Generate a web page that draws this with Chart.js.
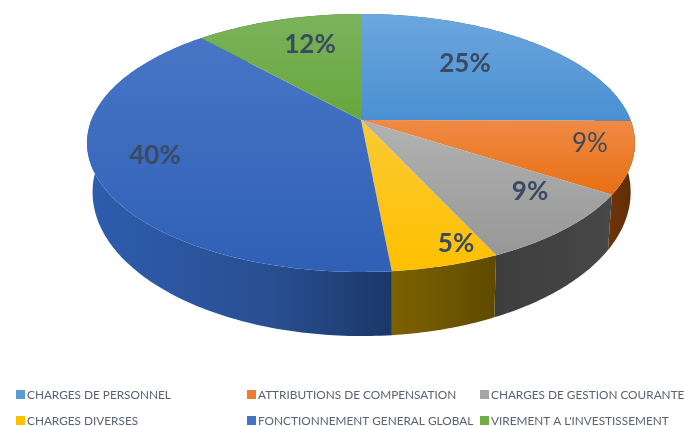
<!DOCTYPE html>
<html>
<head>
<meta charset="utf-8">
<title>Pie</title>
<script src="https://cdn.jsdelivr.net/npm/chart.js@4/dist/chart.umd.js"></script>
<style>
  html, body { margin: 0; padding: 0; background: #fff; }
  canvas { display: block; }
</style>
</head>
<body>
<canvas id="myChart" width="684" height="426"></canvas>
<script>
const categories = ['CHARGES DE PERSONNEL', 'ATTRIBUTIONS DE COMPENSATION', 'CHARGES DE GESTION COURANTE',
  'CHARGES DIVERSES', 'FONCTIONNEMENT GENERAL GLOBAL', "VIREMENT A L'INVESTISSEMENT"];
const shares = [25.1, 9.0, 9.0, 5.4, 39.8, 11.7];

const colors = ['#5B9BD5', '#ED7D31', '#A5A5A5', '#FFC000', '#4472C4', '#70AD47'];
const topLight = ['#6CA6DE', '#F08A45', '#B2B2B2', '#FACA35', '#4875C6', '#7BB35C'];
const topDark = ['#4A90D2', '#E86F12', '#979797', '#FFC000', '#2F60B6', '#68A63C'];
const wallLeft = ['#2F5F8F', '#6E3408', '#3E3E3E', '#7C6100', '#2E5DAE', '#3E6A28'];
const wallMid = ['#2B5884', '#642F06', '#434343', '#6C5500', '#294F92', '#386024'];
const wallRight = ['#27507A', '#5A2A05', '#484848', '#5E4A00', '#1B3768', '#33571F'];

// where the percentages sit
const labelPos = [[465, 64], [590, 144], [530, 192], [456, 244], [155, 156], [310, 45]];
const labelWeight = ['bold', 'normal', 'bold', 'bold', 'bold', 'bold'];
const legendCols = [16, 247, 480];
const legendRows = [395, 421];

// perspective of the disc, fitted on the picture
const CX = 361, CY = 120, A = 269.6, B = 124.9, P = 0.178;

function topPoint(angle) {
  const u = Math.cos(angle), v = Math.sin(angle), w = 1 - P * v;
  return [CX + A * u / w, CY + B * v / w];
}
function lowPoint(angle) {
  const p = topPoint(angle);
  return [361.6 + 0.982 * (p[0] - CX), 335 + 1.115 * (p[1] - 271)];
}

function arcPoints(fn, start, end) {
  const pts = [];
  const steps = Math.max(2, Math.ceil((end - start) * 60));
  for (let i = 0; i <= steps; i++) pts.push(fn(start + (end - start) * i / steps));
  return pts;
}
function tracePath(ctx, pts) {
  ctx.beginPath();
  pts.forEach((p, i) => i ? ctx.lineTo(p[0], p[1]) : ctx.moveTo(p[0], p[1]));
  ctx.closePath();
}

const fakeDepth = {
  id: 'fakeDepth',
  beforeDatasetsDraw(chart) {
    const ctx = chart.ctx;
    const arcs = chart.getDatasetMeta(0).data;
    ctx.save();

    // walls first, the top hides whatever is at the back
    arcs.forEach((arc, i) => {
      const up = arcPoints(topPoint, arc.startAngle, arc.endAngle);
      const low = arcPoints(lowPoint, arc.startAngle, arc.endAngle);
      const xs = up.map(p => p[0]);
      const g = ctx.createLinearGradient(Math.min(...xs), 0, Math.max(...xs), 0);
      g.addColorStop(0, wallLeft[i]);
      g.addColorStop(0.6, wallMid[i]);
      g.addColorStop(1, wallRight[i]);
      tracePath(ctx, up.concat(low.reverse()));
      ctx.fillStyle = g;
      ctx.fill();
    });

    arcs.forEach((arc, i) => {
      const pts = [[CX, CY]].concat(arcPoints(topPoint, arc.startAngle, arc.endAngle));
      const ys = pts.map(p => p[1]);
      const g = ctx.createLinearGradient(0, Math.min(...ys), 0, Math.max(...ys));
      g.addColorStop(0, topLight[i]);
      g.addColorStop(1, topDark[i]);
      tracePath(ctx, pts);
      ctx.fillStyle = g;
      ctx.fill();
    });

    ctx.restore();
    return false;
  },
  afterDraw(chart) {
    const ctx = chart.ctx;
    ctx.save();
    ctx.textBaseline = 'middle';
    ctx.textAlign = 'center';
    ctx.fillStyle = '#3A4A60';
    shares.forEach((s, i) => {
      ctx.font = labelWeight[i] + ' 26px Lato';
      ctx.fillText(Math.round(s) + '%', labelPos[i][0], labelPos[i][1]);
    });

    ctx.textAlign = 'left';
    ctx.font = '11.8px Lato';
    categories.forEach((c, i) => {
      const x = legendCols[i % 3], y = legendRows[Math.floor(i / 3)];
      ctx.fillStyle = colors[i];
      ctx.fillRect(x, y - 5, 9, 9);
      ctx.fillStyle = '#596373';
      ctx.fillText(c, x + 11, y);
    });
    ctx.restore();
  }
};

new Chart(document.getElementById('myChart'), {
  type: 'pie',
  data: {
    labels: categories,
    datasets: [{ data: shares, backgroundColor: colors }]
  },
  options: {
    responsive: false,
    animation: false,
    plugins: { legend: { display: false } }
  },
  plugins: [fakeDepth]
});
</script>
</body>
</html>
